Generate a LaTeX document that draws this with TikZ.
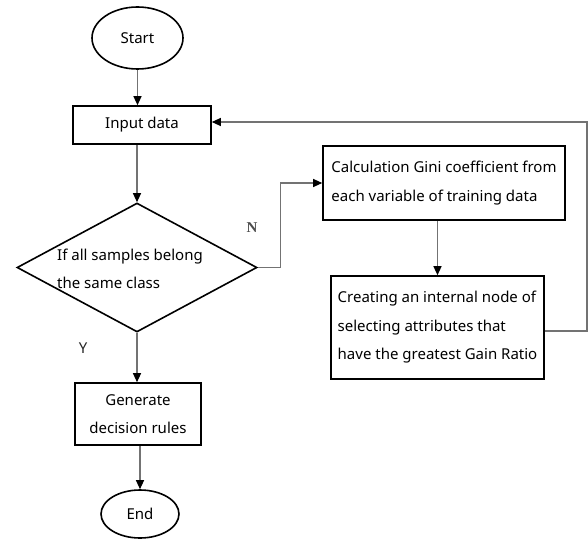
\documentclass[tikz,border=0pt]{standalone}
\usepackage{fontspec}
\setmainfont{Noto Sans}
\newfontfamily\labelserif{Liberation Serif}
\usepackage{tikz}
\usetikzlibrary{shapes.geometric,arrows.meta}

\begin{document}
\begin{tikzpicture}[x=1pt, y=-1pt,
	every node/.style={font=\fontsize{15}{28.5}\selectfont},
	terminal/.style={draw, ellipse, line width=1.6pt, inner sep=0pt},
	process/.style={draw, rectangle, line width=1.6pt, inner sep=0pt, inner xsep=7pt},
	decision/.style={draw, diamond, line width=1.6pt, inner sep=0pt},
	flow/.style={draw=black!55, line width=1.2pt, -{Triangle[length=9pt,width=8pt,color=black]}}]
			\useasboundingbox (0,0) rectangle (588,540);
			\node[terminal, minimum width=91, minimum height=62] (start) at (137.5,38) {Start};
			\node[process, minimum width=138, minimum height=38] (input) at (142,125) {Input data};
			\node[decision, minimum width=240, minimum height=129] (check) at (137,267.5) {};
			\node[anchor=west, align=left, inner sep=0pt] (checktext) at (57,269) {If all samples belong\\the same class};
			\node[process, minimum width=242, minimum height=74, align=left] (gini) at (444,183) {Calculation Gini coefficient from\\each variable of training data};
			\node[process, minimum width=209, minimum height=103, align=left] (create) at (437.5,327.5) {Creating an internal node of\\selecting attributes that\\have the greatest Gain Ratio};
			\node[process, minimum width=126, minimum height=62, align=center] (rules) at (138,414) {Generate\\decision rules};
			\node[terminal, minimum width=78, minimum height=48] (end) at (140,514) {End};
			\node[font=\labelserif\bfseries\fontsize{15}{15}\selectfont, text=black!70] (nlabel) at (252,228) {N};
			\node[font=\bfseries\fontsize{15}{15}\selectfont, text=black!85] (ylabel) at (83,348) {Y};
			\draw[flow] (start.south) -- (start.south |- input.north);
			\draw[flow] (input.south -| check.north) -- (check.north);
			\draw[flow] (check.south) -- (check.south |- rules.north);
			\draw[flow] (rules.south -| end.north) -- (end.north);
			\draw[flow] (check.east) -- ++(23,0) |- (gini.west);
			\draw[flow] (gini.south -| create.north) -- (create.north);
			\draw[flow] ([yshift=-3.5pt]create.east) -- ++(42,0) |- ([yshift=3pt]input.east);
\end{tikzpicture}
\end{document}
